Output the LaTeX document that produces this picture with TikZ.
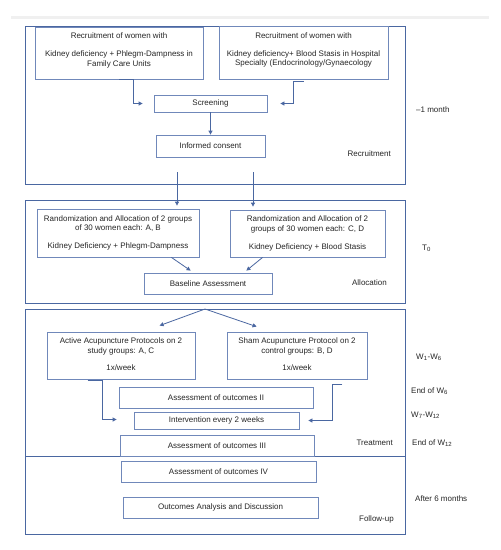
\documentclass[tikz,border=0pt]{standalone}
\usepackage{fontspec}
\setmainfont{Liberation Sans}
\usetikzlibrary{calc,arrows.meta}
\definecolor{secc}{HTML}{4A67A1}
\definecolor{boxc}{HTML}{7088BA}
\definecolor{arrc}{HTML}{4A67A1}
\definecolor{txtc}{HTML}{262626}
\begin{document}
\begin{tikzpicture}[x=1pt,y=-1pt,
  sec/.style={draw=secc,line width=1pt,inner sep=0pt},
  bx/.style={draw=boxc,line width=0.8pt,inner sep=0pt,font=\fontsize{8}{10}\selectfont,text=txtc},
  txt/.style={font=\fontsize{8}{10}\selectfont,text=txtc,inner sep=0pt,anchor=base},
  stxt/.style={txt,anchor=base east},
  rtxt/.style={txt,anchor=base west},
  arr/.style={draw=arrc,line width=0.8pt,-{Triangle[length=4pt,width=4pt]}}]
\useasboundingbox (0,0) rectangle (501,550);
\fill[white] (0,0) rectangle (501,550);
\draw[gray!12,line width=3pt] (11,17) -- (489,17);

% sections
\node[sec,minimum width=380pt,minimum height=158pt] (S1) at (215,105) {};
\node[sec,minimum width=380pt,minimum height=103pt] (S2) at (215,251.5) {};
\node[sec,minimum width=380pt,minimum height=147pt] (S3) at (215,382.5) {};
\node[sec,minimum width=380pt,minimum height=78pt] (S4) at (215,495) {};

% boxes
\node[bx,minimum width=168pt,minimum height=52pt] (A) at (119,53) {};
\node[bx,minimum width=169pt,minimum height=53pt] (B) at (303.5,52.5) {};
\node[bx,minimum width=113pt,minimum height=17pt] (Scr) at (210.5,103.5) {Screening};
\node[bx,minimum width=109pt,minimum height=22pt] (IC) at (210.5,146) {Informed consent};
\node[bx,minimum width=162pt,minimum height=48pt] (C) at (118,233) {};
\node[bx,minimum width=155pt,minimum height=47pt] (D) at (307.5,233.5) {};
\node[bx,minimum width=128pt,minimum height=21pt] (BA) at (208,283.5) {Baseline Assessment};
\node[bx,minimum width=148pt,minimum height=47pt] (E) at (121,355.5) {};
\node[bx,minimum width=140pt,minimum height=47pt] (F) at (297,355.5) {};
\node[bx,minimum width=194pt,minimum height=21pt] (A2) at (216,397.5) {Assessment of outcomes II};
\node[bx,minimum width=165pt,minimum height=17pt] (Int) at (216.5,420.5) {Intervention every 2 weeks};
\node[bx,minimum width=194pt,minimum height=21pt] (A3) at (217,445.5) {Assessment of outcomes III};
\node[bx,minimum width=195pt,minimum height=21pt] (A4) at (218.5,471.5) {Assessment of outcomes IV};
\node[bx,minimum width=195pt,minimum height=21pt] (OA) at (220.5,507.5) {Outcomes Analysis and Discussion};

% multi-line box texts
\node[txt] (a1) at (119,38) {Recruitment of women with};
\node[txt] (a2) at (119,56) {Kidney deficiency + Phlegm-Dampness in};
\node[txt] (a3) at (119,66) {Family Care Units};
\node[txt] (b1) at (303.5,38) {Recruitment of women with};
\node[txt] (b2) at (303.5,56) {Kidney deficiency+ Blood Stasis in Hospital};
\node[txt] (b3) at (303.5,65) {Specialty (Endocrinology/Gynaecology};
\node[txt] (c1) at (118,221) {Randomization and Allocation of 2 groups};
\node[txt] (c2) at (118,230) {of 30 women each: A, B};
\node[txt] (c3) at (118,248) {Kidney Deficiency + Phlegm-Dampness};
\node[txt] (d1) at (307.5,221) {Randomization and Allocation of 2};
\node[txt] (d2) at (307.5,231) {groups of 30 women each: C, D};
\node[txt] (d3) at (307.5,249) {Kidney Deficiency + Blood Stasis};
\node[txt] (e1) at (121,343) {Active Acupuncture Protocols on 2};
\node[txt] (e2) at (121,353) {study groups: A, C};
\node[txt] (e3) at (121,370) {1x/week};
\node[txt] (f1) at (297,343) {Sham Acupuncture Protocol on 2};
\node[txt] (f2) at (297,353) {control groups: B, D};
\node[txt] (f3) at (297,370) {1x/week};

% section labels
\node[stxt] (l1) at (391,156) {Recruitment};
\node[stxt] (l2) at (387,285) {Allocation};
\node[stxt] (l3) at (393,445) {Treatment};
\node[stxt] (l4) at (394,521) {Follow-up};

% time labels
\node[rtxt] (t1) at (416,112) {–1 month};
\node[rtxt] (t2) at (422,250) {T\textsubscript{0}};
\node[rtxt] (t3) at (416,359) {W\textsubscript{1}-W\textsubscript{6}};
\node[rtxt] (t4) at (411,393) {End of W\textsubscript{6}};
\node[rtxt] (t5) at (411,417) {W\textsubscript{7}-W\textsubscript{12}};
\node[rtxt] (t6) at (412,445) {End of W\textsubscript{12}};
\node[rtxt] (t7) at (415,501) {After 6 months};

% connectors
\draw[arr] (A.south) -- ++(14,0) |- ($(Scr.west)+(-11,0)$);
\draw[arr] ($(B.south)+(0,2)$) -- ++(-10,0) |- ($(Scr.east)+(13,0)$);
\draw[arr] (Scr.south) -- (IC.north);
\coordinate (k1) at (177,172);
\coordinate (k2) at (253,172);
\draw[arr] (k1) -- ($(k1 |- C.north)+(0,-3)$);
\draw[arr] (k2) -- ($(k2 |- D.north)+(0,-3)$);
\draw[arr] ($(C.south east)+(-28,0)$) -- ($(BA.north west)+(47,-2)$);
\draw[arr] ($(D.south west)+(33,0)$) -- ($(BA.north east)+(-26,-2)$);
\coordinate (ap) at (205,309);
\draw[arr] (ap) -- ($(E.north west)+(113,-6)$);
\draw[arr] (ap) -- ($(F.north west)+(30,-5)$);
\draw[arr] ($(E.south west)+(41,1)$) -- ++(15,0) |- ($(Int.west)+(-17,-1)$);
\draw[arr] ($(F.south east)+(-25,5)$) -- ++(-10,0) |- ($(Int.east)+(9,0)$);
\end{tikzpicture}
\end{document}
